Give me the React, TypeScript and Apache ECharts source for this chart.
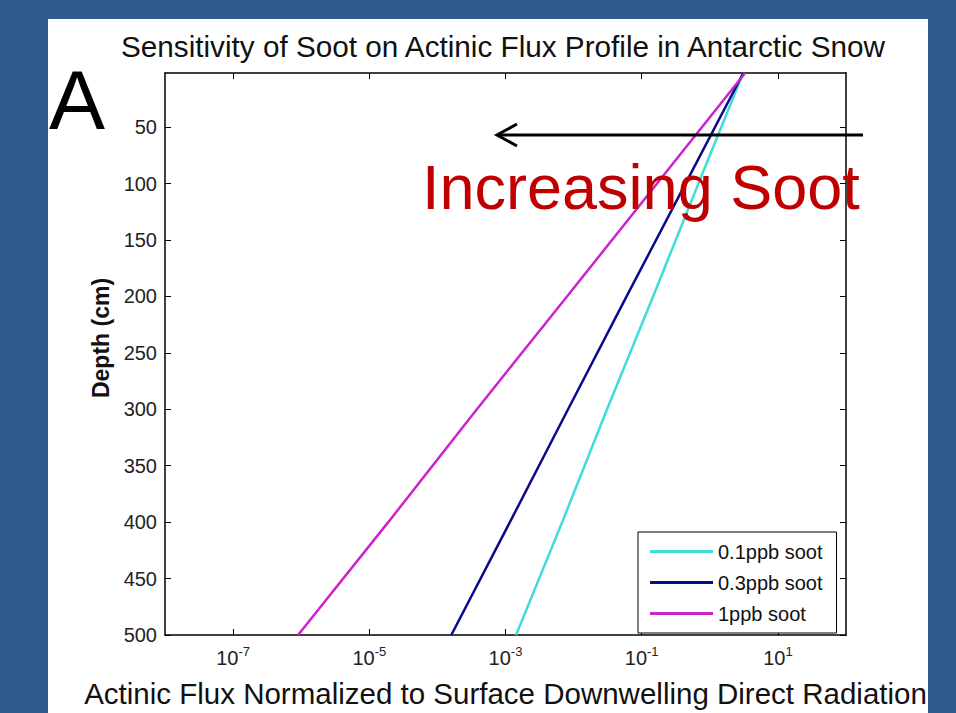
import React, { useEffect, useRef } from "react";
import * as echarts from "echarts";

const depthCm = [2, 100, 200, 300, 400, 500];
const flux01ppb = [3.1, 0.68, 0.147, 0.031, 0.0068, 0.00143];
const flux03ppb = [3.1, 0.44, 0.06, 0.0083, 0.00116, 0.00016];
const flux1ppb = [3.3, 0.168, 0.008, 0.00038, 0.000019, 0.0000009];
const seriesNames = ["0.1ppb soot", "0.3ppb soot", "1ppb soot"];
const seriesColors = ["#3fdcd8", "#0a0a8c", "#cc22cc"];
const xTickValues = [1e-7, 1e-5, 1e-3, 1e-1, 10];
const yTickValues = [50, 100, 150, 200, 250, 300, 350, 400, 450, 500];

const FONT = "'Liberation Sans', Arial, Helvetica, sans-serif";

export default function App() {
  const ref = useRef<HTMLDivElement>(null);
  useEffect(() => {
    if (!ref.current) return;
    const chart = echarts.init(ref.current, null, { renderer: "svg" });
    const mk = (vals: number[]) => vals.map((v, i) => [v, depthCm[i]]);
    const allFlux = [flux01ppb, flux03ppb, flux1ppb];
    const xFmt = (v: number) => {
      const e = Math.round(Math.log10(v));
      return `{b|10}{e|${e}}`;
    };
    chart.setOption({
      animation: false,
      backgroundColor: "#2d5b8f",
      textStyle: { fontFamily: FONT },
      title: {
        text: "Sensitivity of Soot on Actinic Flux Profile in Antarctic Snow",
        left: 116,
        top: 26,
        textStyle: { fontSize: 29.7, fontWeight: "normal", color: "#111", fontFamily: FONT },
      },
      grid: { left: 165, right: 110, top: 73, bottom: 73, containLabel: false },
      legend: {
        orient: "vertical",
        left: 638,
        top: 532,
        backgroundColor: "#fff",
        borderColor: "#000",
        borderWidth: 1,
        borderRadius: 0,
        padding: [9, 14, 9, 12],
        itemWidth: 63,
        itemHeight: 3,
        itemGap: 10,
        icon: "rect",
        textStyle: { fontSize: 20, lineHeight: 21, color: "#111", fontFamily: FONT },
        data: seriesNames,
      },
      xAxis: [
        {
          type: "log",
          logBase: 10,
          min: 1e-8,
          max: 1e2,
          position: "bottom",
          name: "Actinic Flux Normalized to Surface Downwelling Direct Radiation",
          nameLocation: "middle",
          nameGap: 43,
          nameTextStyle: { fontSize: 29.5, color: "#111", fontFamily: FONT },
          axisLine: { onZero: false, lineStyle: { color: "#000", width: 1.5 } },
          axisTick: { inside: true, length: 6, lineStyle: { color: "#000" }, customValues: xTickValues },
          axisLabel: {
            customValues: xTickValues,
            margin: 10,
            color: "#222",
            formatter: xFmt,
            rich: {
              b: { fontSize: 20, fontFamily: FONT, color: "#222" },
              e: { fontSize: 13, fontFamily: FONT, color: "#222", verticalAlign: "top", padding: [0, 0, 12, 0] },
            },
          },
          splitLine: { show: false },
          minorTick: { show: false },
        },
        {
          type: "log",
          logBase: 10,
          min: 1e-8,
          max: 1e2,
          position: "top",
          axisLine: { onZero: false, lineStyle: { color: "#000", width: 1.5 } },
          axisTick: { inside: true, length: 6, lineStyle: { color: "#000" }, customValues: xTickValues },
          axisLabel: { show: false },
          splitLine: { show: false },
        },
      ],
      yAxis: [
        {
          type: "value",
          inverse: true,
          min: 2,
          max: 500,
          position: "left",
          name: "Depth (cm)",
          nameLocation: "middle",
          nameRotate: 90,
          nameGap: 52,
          nameTextStyle: {
            fontSize: 23,
            fontWeight: "bold",
            color: "#111",
            fontFamily: FONT,
            padding: [0, 0, 0, 32],
          },
          axisLine: { onZero: false, lineStyle: { color: "#000", width: 1.5 } },
          axisTick: { inside: true, length: 6, lineStyle: { color: "#000" }, customValues: yTickValues },
          axisLabel: { customValues: yTickValues, fontSize: 20, color: "#222", margin: 8, fontFamily: FONT },
          splitLine: { show: false },
        },
        {
          type: "value",
          inverse: true,
          min: 2,
          max: 500,
          position: "right",
          axisLine: { onZero: false, lineStyle: { color: "#000", width: 1.5 } },
          axisTick: { inside: true, length: 6, lineStyle: { color: "#000" }, customValues: yTickValues },
          axisLabel: { show: false },
          splitLine: { show: false },
        },
      ],
      series: seriesNames.map((name, i) => ({
        name,
        type: "line",
        xAxisIndex: 0,
        yAxisIndex: 0,
        data: mk(allFlux[i]),
        showSymbol: false,
        symbol: "none",
        lineStyle: { color: seriesColors[i], width: 2.5 },
        itemStyle: { color: seriesColors[i] },
      })),
      graphic: [
        {
          type: "rect",
          z: -10,
          silent: true,
          shape: { x: 48, y: 19, width: 880, height: 700 },
          style: { fill: "#ffffff" },
        },
        {
          type: "text",
          x: 49,
          y: 142,
          style: { text: "A", fontSize: 84, fill: "#000", fontFamily: FONT, verticalAlign: "bottom" },
        },
        {
          type: "text",
          x: 422,
          y: 218,
          z: 10,
          style: { text: "Increasing Soot", fontSize: 63, fill: "#c00000", fontFamily: FONT, verticalAlign: "bottom" },
        },
        {
          type: "line",
          z: 10,
          shape: { x1: 863, y1: 135, x2: 497, y2: 135 },
          style: { stroke: "#000", lineWidth: 3 },
        },
        {
          type: "polyline",
          z: 10,
          shape: { points: [[517, 124], [497, 135], [517, 146]] },
          style: { stroke: "#000", lineWidth: 3, fill: "none" },
        },
      ],
    });
    return () => chart.dispose();
  }, []);
  return (
    <div
      ref={ref}
      style={{ position: "fixed", left: 0, top: 0, width: 956, height: 713 }}
    />
  );
}
